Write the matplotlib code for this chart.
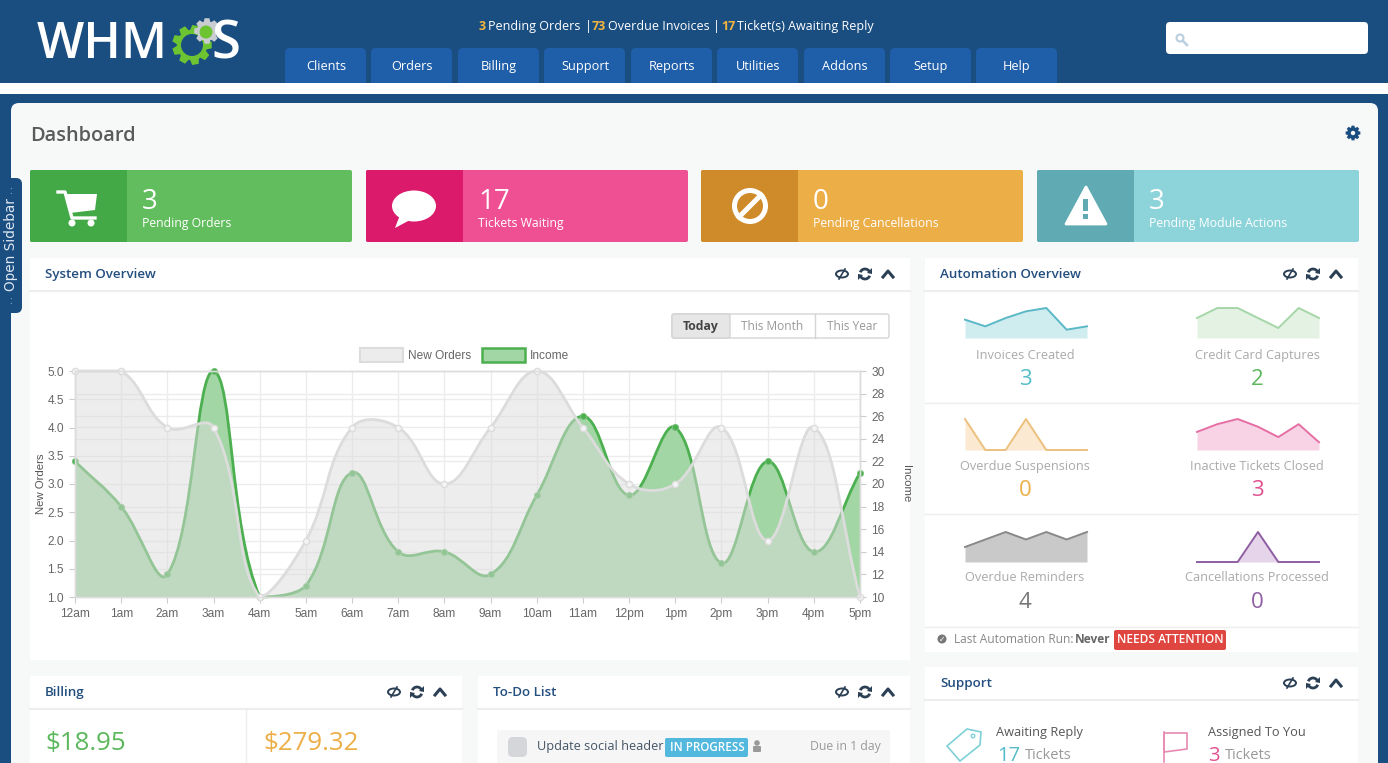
#!/usr/bin/env python3
# WHMCS admin dashboard screenshot rebuilt with matplotlib
import numpy as np
import matplotlib
matplotlib.use("Agg")
import matplotlib.pyplot as plt
from matplotlib.patches import FancyBboxPatch, Rectangle, Circle, Ellipse, Polygon, PathPatch, Arc
from matplotlib.path import Path

plt.rcParams['font.family'] = ['Open Sans', 'DejaVu Sans']

W, H = 1388, 763

# chart data
hours = ['12am', '1am', '2am', '3am', '4am', '5am', '6am', '7am', '8am',
         '9am', '10am', '11am', '12pm', '1pm', '2pm', '3pm', '4pm', '5pm']
new_orders = [5, 5, 4, 4, 1, 2, 4, 4, 3, 4, 5, 4, 3, 3, 4, 2, 4, 1]
income = [22, 18, 12, 30, 10, 11, 21, 14, 14, 12, 19, 26, 19, 25, 13, 22, 14, 21]
orders_ticks = [1.0, 1.5, 2.0, 2.5, 3.0, 3.5, 4.0, 4.5, 5.0]
income_ticks = [10, 12, 14, 16, 18, 20, 22, 24, 26, 28, 30]

# sparkline data
spark_invoices = [5.5, 3.5, 6, 8, 9, 2.5, 3.5]
spark_captures = [2, 3, 3, 2, 1, 3, 2]
spark_suspensions = [1, 0, 0, 1, 0, 0, 0]
spark_tickets = [3.5, 5, 6, 4.5, 2.5, 5, 1.5]
spark_reminders = [2, 3, 4, 3, 4, 3, 4]
spark_cancellations = [0, 0, 0, 1, 0, 0, 0]

# text content
nav_items = ['Clients', 'Orders', 'Billing', 'Support', 'Reports', 'Utilities', 'Addons', 'Setup', 'Help']
nav_left = [285, 371, 458, 544, 631, 717, 804, 890, 976]
card_values = ['3', '17', '0', '3']
card_labels = ['Pending Orders', 'Tickets Waiting', 'Pending Cancellations', 'Pending Module Actions']
card_left = [30, 366, 701, 1037]
card_main = ['#62bd5e', '#ee5093', '#ecae47', '#8cd4da']
card_dark = ['#43a947', '#dc1a6c', '#cf8a2a', '#5faab3']

NAVY = '#1a4d80'
TAB = '#1f5ea8'
TITLE = '#234e7e'

fig = plt.figure(figsize=(W / 100, H / 100), dpi=100, facecolor=NAVY)
page = fig.add_axes([0, 0, 1, 1])
page.set_xlim(0, W)
page.set_ylim(H, 0)
page.axis('off')


def box(x0, y0, x1, y1, color, r=0, ec='none', lw=0, ax=page):
    if r:
        p = FancyBboxPatch((x0, y0), x1 - x0, y1 - y0, boxstyle='round,pad=0,rounding_size=%g' % r,
                           fc=color, ec=ec, lw=lw)
    else:
        p = Rectangle((x0, y0), x1 - x0, y1 - y0, fc=color, ec=ec, lw=lw)
    ax.add_patch(p)
    return p


def label(x, y, s, size=9, color='#777777', ha='left', weight='normal', **kw):
    # va=center sits high with this font, push it down a little
    return page.text(x, y + 0.18 * size, s, fontsize=size, color=color, ha=ha, va='center',
                     fontweight=weight, **kw)


def gear(cx, cy, r, color, teeth=8):
    # outline of a toothed wheel
    pts = []
    step = 2 * np.pi / teeth
    for i in range(teeth):
        a = i * step
        for da, rr in [(-0.30, 0.76), (-0.17, 1.0), (0.17, 1.0), (0.30, 0.76)]:
            t = a + da * step * 1.4
            pts.append((cx + r * rr * np.cos(t), cy + r * rr * np.sin(t)))
    page.add_patch(Polygon(pts, closed=True, fc=color, ec='none'))


def panel(x0, y0, x1, y1, title):
    box(x0, y0, x1, y1, 'white')
    page.plot([x0, x1], [y0 + 33, y0 + 33], color='#ededed', lw=1.5)
    label(x0 + 15, y0 + 15, title, size=9.6, color=TITLE, weight='semibold')
    # eye, refresh and chevron icons
    ex, ey = x1 - 68, y0 + 16
    page.add_patch(Ellipse((ex, ey), 12, 7, fc='none', ec='#2b3f55', lw=1.4))
    page.plot([ex - 3, ex + 3], [ey + 5, ey - 5], color='#2b3f55', lw=1.2)
    rx = x1 - 45
    page.add_patch(Arc((rx, ey), 10, 10, theta1=200, theta2=340, ec='#2b3f55', lw=2))
    page.add_patch(Arc((rx, ey), 10, 10, theta1=20, theta2=160, ec='#2b3f55', lw=2))
    page.add_patch(Polygon([(rx + 7, ey - 6), (rx + 7, ey), (rx + 2, ey - 1)], fc='#2b3f55'))
    page.add_patch(Polygon([(rx - 7, ey + 6), (rx - 7, ey), (rx - 2, ey + 1)], fc='#2b3f55'))
    page.plot([x1 - 27, x1 - 22, x1 - 17], [ey + 3, ey - 3, ey + 3], color='#2b3f55', lw=2.2)


# header
box(0, 0, W, 83, NAVY)
box(0, 83, W, 94, 'white')
box(11, 103, 1378, 800, '#f7f8f8', r=8)

# logo
page.text(37, 45, 'WHM', fontsize=36, color='white', va='center', ha='left', fontweight='semibold')
gear(192, 45, 20, '#6cc433', teeth=9)
page.add_patch(Circle((192, 45), 11, fc=NAVY))
gear(207, 31, 13, '#c9ccd0', teeth=8)
page.add_patch(Circle((206, 32), 6.5, fc='#6cc433'))
page.text(211, 45, 'S', fontsize=38, color='white', va='center', ha='left', fontweight='semibold')

# top status line
status_x = [479, 488, 585, 592, 608, 713, 721, 737]
status_text = ['3', 'Pending Orders', '|', '73', 'Overdue Invoices', '|', '17', 'Ticket(s) Awaiting Reply']
for x, s in zip(status_x, status_text):
    if s[0].isdigit():
        label(x, 25, s, size=9, color='#f3b53f', weight='bold')
    else:
        label(x, 25, s, size=9, color='white')

# nav tabs
for x, s in zip(nav_left, nav_items):
    box(x, 48, x + 81, 90, TAB, r=5)
    label(x + 41, 65, s, size=9.2, color='white', ha='center')
box(0, 83, W, 94, 'white')

# search box
box(1166, 22, 1368, 54, 'white', r=4)
page.add_patch(Circle((1180, 38), 3.5, fc='none', ec='#b9cfe0', lw=1.5))
page.plot([1183, 1187], [41, 45], color='#b9cfe0', lw=1.8)

# title row
label(30, 133, 'Dashboard', size=14.4, color='#5a5a5a', weight='semibold')
gear(1353, 133, 7.5, NAVY, teeth=8)
page.add_patch(Circle((1353, 133), 2.2, fc='#f7f8f8'))

# sidebar tab
box(-8, 178, 22, 313, NAVY, r=6)
page.text(11, 245, 'Open Sidebar', fontsize=9.8, color='#dfe8f1', rotation=90, ha='center', va='center',
          family='DejaVu Sans')
page.text(11, 191, ':', fontsize=7, color='#9db5cc', ha='center', va='center')
page.text(11, 301, ':', fontsize=7, color='#9db5cc', ha='center', va='center')

# stat cards
for x, v, s, c, d in zip(card_left, card_values, card_labels, card_main, card_dark):
    box(x, 170, x + 322, 242, c, r=2)
    box(x, 170, x + 97, 242, d, r=2)
    box(x + 90, 170, x + 97, 242, d)
    label(x + 112, 198, v, size=20, color='white')
    label(x + 112, 222, s, size=8.8, color='white')

# cart icon
page.add_patch(Polygon([(66, 194), (97, 194), (95, 210), (70, 213)], fc='white'))
page.plot([58, 65, 72, 95], [192, 192, 218, 218], color='white', lw=2.4)
page.add_patch(Circle((72, 223), 3.5, fc='white'))
page.add_patch(Circle((91, 223), 3.5, fc='white'))
# speech bubble
page.add_patch(Ellipse((414, 206), 44, 31, fc='white'))
page.add_patch(Polygon([(400, 215), (410, 220), (395, 228)], fc='white'))
# no entry
page.add_patch(Circle((750, 206), 15.5, fc='none', ec='white', lw=3.6))
page.plot([739, 761], [217, 195], color='white', lw=3.6)
# warning triangle
page.add_patch(Polygon([(1086, 187), (1106, 224), (1066, 224)], fc='white', ec='white', lw=2, joinstyle='round'))
page.add_patch(Rectangle((1083.5, 199), 5, 12, fc='#5faab3'))
page.add_patch(Rectangle((1083.5, 214), 5, 5, fc='#5faab3'))

# panels
panel(30, 258, 910, 660, 'System Overview')
panel(925, 258, 1358, 652, 'Automation Overview')
panel(30, 676, 462, 800, 'Billing')
panel(478, 676, 910, 800, 'To-Do List')
panel(925, 667, 1358, 800, 'Support')

# range buttons
box(672, 314, 889, 338, 'white', r=2, ec='#d4d4d4', lw=1)
box(672, 314, 730, 338, '#e6e6e6', r=2, ec='#d4d4d4', lw=1)
page.plot([815, 815], [314, 338], color='#d4d4d4', lw=1)
label(701, 324.5, 'Today', size=8.8, color='#444444', ha='center', weight='bold')
label(772, 324.5, 'This Month', size=8.6, color='#999999', ha='center')
label(852, 324.5, 'This Year', size=8.6, color='#999999', ha='center')

# legend
box(360, 348, 403, 362, '#ececec', ec='#dcdcdc', lw=1.5)
page.text(408, 356, 'New Orders', fontsize=8.6, color='#666666', va='center', family='Liberation Sans')
box(482, 348, 525, 362, '#a3d6a5', ec='#4caf50', lw=1.8)
page.text(530, 356, 'Income', fontsize=8.6, color='#666666', va='center', family='Liberation Sans')


def spline_path(xs, ys, sx, sy, lo, hi, closed=False):
    # Chart.js style bezier, tension 0.4, measured in pixels
    xs = np.array(xs, dtype=float)
    ys = np.array(ys, dtype=float)
    n = len(xs)
    before = []
    after = []
    for i in range(n):
        p = max(i - 1, 0)
        q = min(i + 1, n - 1)
        d0 = np.hypot((xs[i] - xs[p]) * sx, (ys[i] - ys[p]) * sy)
        d1 = np.hypot((xs[q] - xs[i]) * sx, (ys[q] - ys[i]) * sy)
        tot = d0 + d1
        f0 = 0.4 * d0 / tot
        f1 = 0.4 * d1 / tot
        before.append((xs[i] - f0 * (xs[q] - xs[p]), np.clip(ys[i] - f0 * (ys[q] - ys[p]), lo, hi)))
        after.append((xs[i] + f1 * (xs[q] - xs[p]), np.clip(ys[i] + f1 * (ys[q] - ys[p]), lo, hi)))
    verts = [(xs[0], ys[0])]
    codes = [Path.MOVETO]
    for i in range(n - 1):
        verts += [after[i], before[i + 1], (xs[i + 1], ys[i + 1])]
        codes += [Path.CURVE4] * 3
    if closed:
        verts += [(xs[-1], lo), (xs[0], lo), (xs[0], ys[0])]
        codes += [Path.LINETO, Path.LINETO, Path.CLOSEPOLY]
    return Path(verts, codes)


# main chart, income sits under new orders
ax_income = fig.add_axes([75 / W, 1 - 597 / H, 785 / W, 226 / H])
ax_orders = ax_income.twinx()
ax_income.set_zorder(1)
ax_orders.set_zorder(2)
ax_orders.patch.set_visible(False)
ax_income.yaxis.tick_right()
ax_income.yaxis.set_label_position('right')
ax_orders.yaxis.tick_left()
ax_orders.yaxis.set_label_position('left')

xpos = list(range(len(hours)))
ax_income.set_xlim(0, 17)
ax_income.set_ylim(10, 30)
ax_orders.set_ylim(1, 5)
ax_income.set_xticks(xpos)
ax_income.set_xticklabels(hours)
ax_income.set_yticks(income_ticks)
ax_income.set_yticks(np.arange(10, 30.1, 2.5), minor=True)
ax_orders.set_yticks(orders_ticks)
ax_orders.set_yticklabels(['%.1f' % v for v in orders_ticks])
ax_income.set_axisbelow(True)
ax_income.grid(True, which='major', color='#ececec', lw=1)
ax_income.grid(True, which='minor', axis='y', color='#ececec', lw=1)
ax_income.tick_params(which='minor', length=0)
for a in (ax_income, ax_orders):
    a.tick_params(which='major', length=4, color='#cccccc', labelcolor='#666666', pad=4)
    for lab in a.get_xticklabels() + a.get_yticklabels():
        lab.set_family('Liberation Sans')
        lab.set_fontsize(8.6)
    for sp in a.spines.values():
        sp.set_color('#dcdcdc')
        sp.set_linewidth(1)
ax_orders.set_ylabel('New Orders', fontsize=8.2, color='#555555', family='Liberation Sans', labelpad=1)
ax_income.set_ylabel('Income', fontsize=8.2, color='#555555', family='Liberation Sans', rotation=270,
                     labelpad=19)

px_x = 785 / 17
px_orders = 226 / 4
px_income = 226 / 20

fill_i = spline_path(xpos, income, px_x, px_income, 10, 30, closed=True)
line_i = spline_path(xpos, income, px_x, px_income, 10, 30)
ax_income.add_patch(PathPatch(fill_i, fc='#a3d6a5', ec='none'))
ax_income.add_patch(PathPatch(line_i, fc='none', ec='#4caf50', lw=2, clip_on=False))
ax_income.plot(xpos, income, 'o', ms=4.5, color='#4caf50', mec='#7cc47f', mew=0.6, clip_on=False)

fill_o = spline_path(xpos, new_orders, px_x, px_orders, 1, 5, closed=True)
line_o = spline_path(xpos, new_orders, px_x, px_orders, 1, 5)
ax_orders.add_patch(PathPatch(fill_o, fc=(220 / 255, 220 / 255, 220 / 255, 0.5), ec='none'))
ax_orders.add_patch(PathPatch(line_o, fc='none', ec='#dcdcdc', lw=2, clip_on=False))
ax_orders.plot(xpos, new_orders, 'o', ms=4.5, mfc='#f4f4f4', mec='#dcdcdc', mew=1, clip_on=False)

# automation panel
auto_names = [['Invoices Created', 'Credit Card Captures'],
              ['Overdue Suspensions', 'Inactive Tickets Closed'],
              ['Overdue Reminders', 'Cancellations Processed']]
auto_values = [['3', '2'], ['0', '3'], ['4', '0']]
auto_spark = [[spark_invoices, spark_captures],
              [spark_suspensions, spark_tickets],
              [spark_reminders, spark_cancellations]]
auto_line = [['#5bb8c7', '#a5d6a7'], ['#ecc07e', '#e56fa4'], ['#888888', '#8e5ea2']]
auto_fill = [['#cfecef', '#e3f2e3'], ['#fbe9d1', '#f8d3e5'], ['#c9c9c9', '#e5d4ea']]
auto_num = [['#56bcca', '#5cb85c'], ['#ecae47', '#e0508f'], ['#777777', '#8e5ea2']]
row_base = [338, 450, 562]
row_top = [308, 419, 532]
row_name = [354, 465, 576]
row_num = [377, 488, 600]
col_left = [965, 1197]
col_mid = [1025, 1257]

for r in range(3):
    for c in range(2):
        x0 = col_left[c]
        sp = fig.add_axes([x0 / W, 1 - row_base[r] / H, 122 / W, (row_base[r] - row_top[r]) / H])
        sp.axis('off')
        vals = auto_spark[r][c]
        xs = list(range(len(vals)))
        sp.set_xlim(0, 6)
        sp.set_ylim(0, max(vals))
        sp.fill_between(xs, vals, 0, color=auto_fill[r][c], lw=0)
        sp.plot(xs, vals, color=auto_line[r][c], lw=1.4, clip_on=False)
        label(col_mid[c], row_name[r], auto_names[r][c], size=9.2, color='#aaaaaa', ha='center')
        label(col_mid[c], row_num[r], auto_values[r][c], size=16, color=auto_num[r][c], ha='center')

for y in [403, 514, 627]:
    page.plot([925, 1358], [y, y], color='#eeeeee', lw=1)

page.add_patch(Circle((942, 639), 4.5, fc='#777777'))
page.text(942, 639, '\u2713', fontsize=5.5, color='white', ha='center', va='center', family='DejaVu Sans')
label(954, 638, 'Last Automation Run:', size=8.6, color='#888888')
label(1075, 638, 'Never', size=8.6, color='#666666', weight='bold')
box(1114, 630, 1226, 650, '#e04640', r=2)
label(1170, 638, 'NEEDS ATTENTION', size=8.6, color='white', ha='center', weight='semibold')

# billing panel
page.plot([246, 246], [710, 763], color='#eeeeee', lw=1)
label(45, 740, '$18.95', size=18.6, color='#5cb85c')
label(263, 740, '$279.32', size=18.6, color='#ecae47')
label(45, 768, 'Today', size=9, color='#aaaaaa')
label(263, 768, 'This Month', size=9, color='#aaaaaa')

# to-do panel
box(497, 730, 890, 790, '#f6f6f6', r=2)
box(508, 737, 527, 757, '#d4d6d9', r=5)
label(537, 745, 'Update social header', size=9.2, color='#445566')
box(665, 738, 748, 757, '#52b8dd', r=2)
label(707, 746, 'IN PROGRESS', size=8.4, color='white', ha='center', weight='semibold')
page.add_patch(Circle((757, 743), 2.8, fc='#999999'))
box(753, 746, 761, 752, '#999999', r=1)
label(881, 745, 'Due in 1 day', size=8.8, color='#999999', ha='right')

# support panel
page.add_patch(Polygon([(947, 746), (967, 729), (981, 732), (980, 745), (960, 761)], closed=True,
                       fc='none', ec='#7fd0d8', lw=1.2))
page.add_patch(Circle((973, 736), 1.8, fc='none', ec='#7fd0d8', lw=1))
label(996, 731, 'Awaiting Reply', size=9.2, color='#555555')
label(997, 753, '17', size=14.5, color='#56bcca')
label(1025, 754, 'Tickets', size=10.5, color='#999999')
page.plot([1164, 1164], [732, 762], color='#e88ab3', lw=1.2)
page.add_patch(Polygon([(1164, 733), (1187, 733), (1187, 749), (1164, 752)], fc='none', ec='#e88ab3', lw=1.2))
label(1208, 731, 'Assigned To You', size=9.2, color='#555555')
label(1208, 753, '3', size=14.5, color='#e0508f')
label(1225, 754, 'Tickets', size=10.5, color='#999999')

fig.savefig('out.png', dpi=100, facecolor=fig.get_facecolor())
plt.close(fig)
